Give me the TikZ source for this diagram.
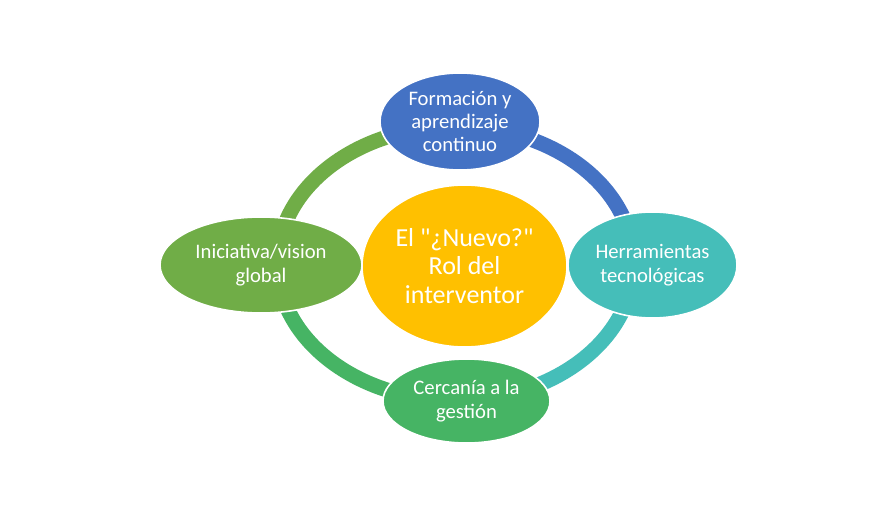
\documentclass[tikz,border=0pt]{standalone}
\usepackage{fontspec}
\setmainfont{Carlito}[Ligatures=TeXOff]
\usetikzlibrary{shapes.geometric}
\definecolor{cblue}{RGB}{68,114,196}
\definecolor{cteal}{RGB}{69,190,185}
\definecolor{cgreen}{RGB}{70,180,100}
\definecolor{colive}{RGB}{112,173,71}
\definecolor{cyellow}{RGB}{255,192,0}

\begin{document}
\begin{tikzpicture}[x=0.75pt,y=0.75pt,yscale=-1,xscale=1,
	ring/.style={line width=11.25pt},
	bubble/.style={ellipse,draw=white,line width=1.2pt,inner sep=0pt,text=white,align=center,
		font=\fontsize{15.5}{17.5}\selectfont},
	hub/.style={bubble,fill=cyellow,font=\fontsize{19.5}{21.4}\selectfont}]
	%set diagram size 896 x 521
	\path [fill=white] (0,0) rectangle (896,521);

	%Shape: Ring segments
	\draw [ring,color=cblue] (455.5,126.5) arc [start angle=-90,end angle=0,x radius=178,y radius=137];
	\draw [ring,color=cteal] (633.5,263.5) arc [start angle=0,end angle=90,x radius=178,y radius=137];
	\draw [ring,color=cgreen] (455.5,400.5) arc [start angle=90,end angle=180,x radius=178,y radius=137];
	\draw [ring,color=colive] (277.5,263.5) arc [start angle=180,end angle=270,x radius=178,y radius=137];

	% Center Node
	\node [hub,minimum width=153.75pt,minimum height=121.5pt] (rol) at (464.5,266) {El "¿Nuevo?"\\Rol del\\interventor};
	% Outer Nodes
	\node [bubble,fill=cblue,minimum width=120pt,minimum height=72.75pt] (formacion) at (460,121.5) {Formación y\\aprendizaje\\continuo};
	\node [bubble,fill=cteal,minimum width=126.75pt,minimum height=79.5pt] (herramientas) at (652.5,265) {Herramientas\\tecnológicas};
	\node [bubble,fill=cgreen,minimum width=125.25pt,minimum height=63pt] (cercania) at (466.5,401) {Cercanía a la\\gestión};
	\node [bubble,fill=colive,minimum width=151.5pt,minimum height=72pt] (iniciativa) at (261,265) {Iniciativa/vision\\global};

\end{tikzpicture}
\end{document}
